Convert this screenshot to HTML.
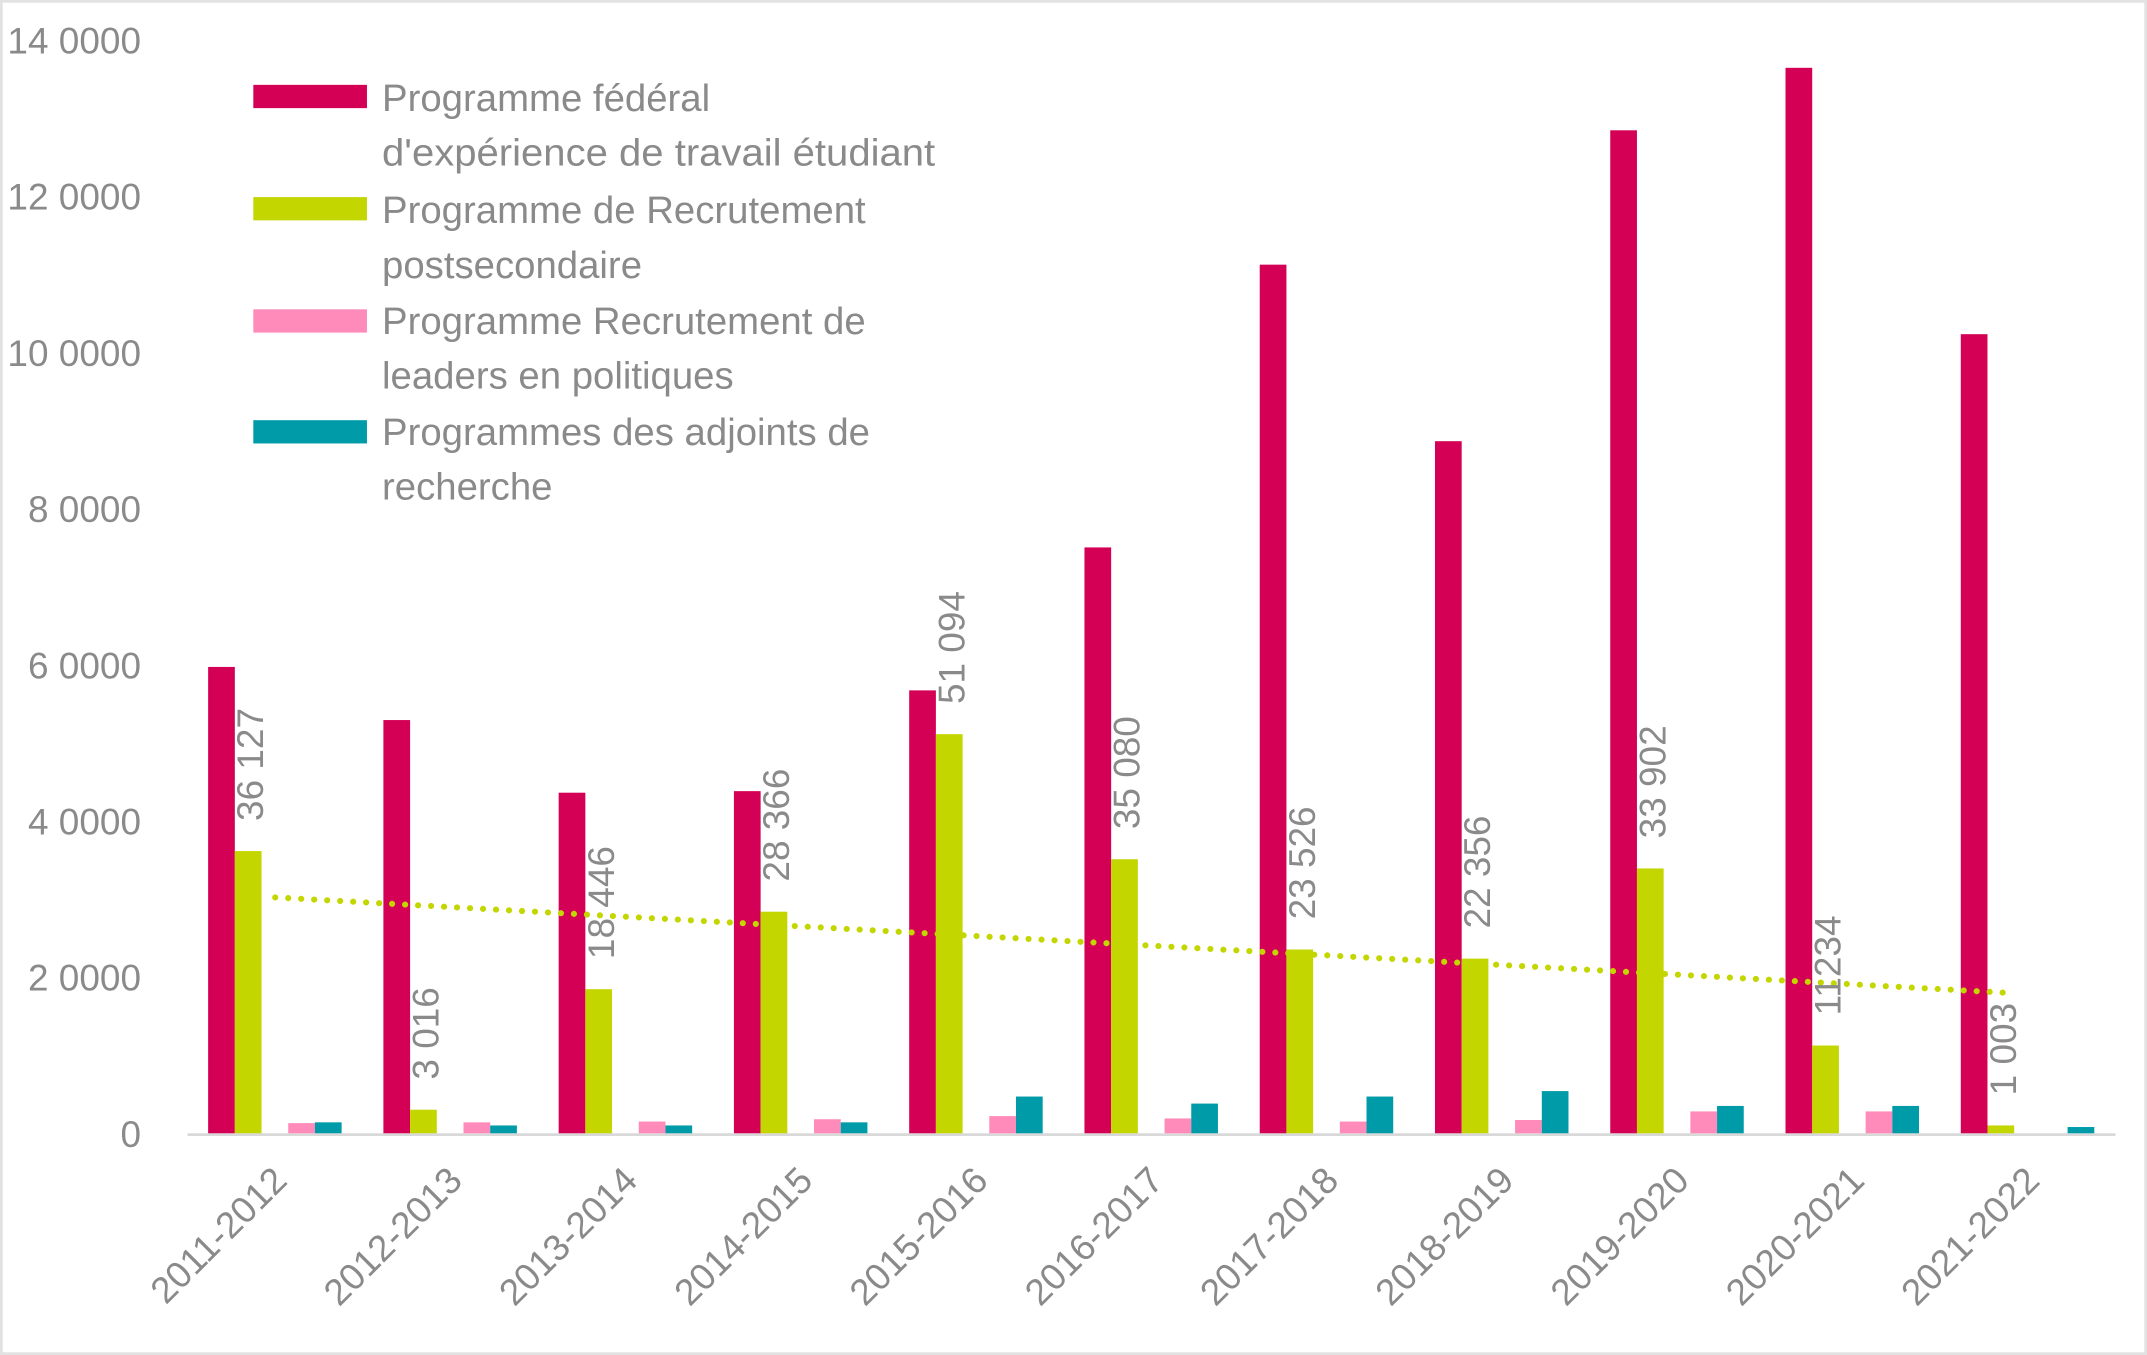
<!DOCTYPE html>
<html><head><meta charset="utf-8"><style>
html,body{margin:0;padding:0;background:#fff;}
svg{display:block;}
text{font-family:"Liberation Sans",sans-serif;fill:#8a8a8a;}
</style></head><body>
<svg id="chart" width="2147" height="1355" viewBox="0 0 1568 990" preserveAspectRatio="none" xmlns="http://www.w3.org/2000/svg">
<rect x="1" y="1" width="1566" height="988" fill="#fff" stroke="#e2e2e2" stroke-width="2"/>
<g id="yaxis"></g>
<g id="bars"></g>
<g id="trend"></g>
<g id="labels"></g>
<g id="xaxis"></g>
<g>
 <g>
  <rect x="185" y="62" width="83" height="17" fill="#D40055"/>
  <text x="279" y="81" font-size="28">Programme fédéral</text>
  <text x="279" y="121" font-size="28" textLength="404" lengthAdjust="spacingAndGlyphs">d'expérience de travail étudiant</text>
 </g>
 <g>
  <rect x="185" y="144" width="83" height="17" fill="#C3D600"/>
  <text x="279" y="163" font-size="28">Programme de Recrutement</text>
  <text x="279" y="203" font-size="28">postsecondaire</text>
 </g>
 <g>
  <rect x="185" y="226" width="83" height="17" fill="#FF8BBB"/>
  <text x="279" y="244" font-size="28">Programme Recrutement de</text>
  <text x="279" y="284" font-size="28">leaders en politiques</text>
 </g>
 <g>
  <rect x="185" y="307" width="83" height="17" fill="#009BA8"/>
  <text x="279" y="325" font-size="28">Programmes des adjoints de</text>
  <text x="279" y="365" font-size="28">recherche</text>
 </g>
</g>
</svg>
<script>
const categories = ["2011-2012","2012-2013","2013-2014","2014-2015","2015-2016","2016-2017","2017-2018","2018-2019","2019-2020","2020-2021","2021-2022"];
const federal = [59700,52900,43600,43800,56700,75000,111200,88600,128400,136400,102300];
const postsec = [36127,3016,18446,28366,51094,35080,23526,22356,33902,11234,1003];
const leaders = [1300,1400,1500,1800,2200,1900,1500,1700,2800,2800,0];
const adjoints = [1400,1000,1000,1400,4700,3800,4700,5400,3500,3500,800];
const postsecLabels = ["36 127","3 016","18 446","28 366","51 094","35 080","23 526","22 356","33 902","11234","1 003"];
const yTicks = [0,20000,40000,60000,80000,100000,120000,140000];
const yTickLabels = ["0","2 0000","4 0000","6 0000","8 0000","10 0000","12 0000","14 0000"];

const NS="http://www.w3.org/2000/svg";
const y0=828, yMax=29, vMax=140000, x0=137, band=128, slot=19.5, pad=15;
const y=v=>y0-(v/vMax)*(y0-yMax);
const xc=i=>x0+band*i+band/2;
const xs=(i,s)=>x0+band*i+pad+slot*s;
function mk(tag,attrs,parent){const e=document.createElementNS(NS,tag);for(const k in attrs)e.setAttribute(k,attrs[k]);parent.appendChild(e);return e;}

const ya=document.getElementById('yaxis');
yTicks.forEach((t,i)=>{
 const e=mk('text',{x:103,y:y(t)+10,'font-size':27,'text-anchor':'end'},ya);
 e.textContent=yTickLabels[i];
 
 
});
const axl=mk('line',{x1:x0,x2:x0+band*categories.length,y1:y0+1,y2:y0+1,stroke:'#d9d9d9','stroke-width':2},ya);



const bg=document.getElementById('bars');
const series=[[federal,'#D40055',0,'bar-federal'],[postsec,'#C3D600',1,'bar-postsecondaire'],[leaders,'#FF8BBB',3,'bar-leaders'],[adjoints,'#009BA8',4,'bar-adjoints']];
series.forEach(([vals,col,s,name])=>{
 vals.forEach((v,i)=>{
  if(v<=0)return;
  const r=mk('rect',{x:xs(i,s),y:y(v),width:slot,height:y0-y(v),fill:col},bg);
  
  
 });
});

const n=postsec.length;let sx=0,sy=0,sxy=0,sxx=0;
postsec.forEach((v,i)=>{sx+=i;sy+=v;sxy+=i*v;sxx+=i*i;});
const b=(n*sxy-sx*sy)/(n*sxx-sx*sx), a=(sy-b*sx)/n;
const tl=mk('line',{x1:xc(0),y1:y(a),x2:xc(n-1)-12,y2:y(a+b*(n-1-12/band)),stroke:'#C3D600','stroke-width':4.5,'stroke-dasharray':'0 9.5','stroke-linecap':'round'},document.getElementById('trend'));



const lg=document.getElementById('labels');
postsec.forEach((v,i)=>{
 const cx=xs(i,1)+slot/2+11, cy=y(v)-22;
 const t=mk('text',{x:cx,y:cy,'font-size':27,transform:`rotate(-90 ${cx} ${cy})`},lg);
 t.textContent=postsecLabels[i];
 
 
});

const xa=document.getElementById('xaxis');
categories.forEach((c,i)=>{
 const cx=xc(i)+10, cy=864;
 const t=mk('text',{x:cx,y:cy,'font-size':27,'text-anchor':'end',transform:`rotate(-45 ${cx} ${cy})`},xa);
 t.textContent=c;
 
 
});
</script>
</body></html>
